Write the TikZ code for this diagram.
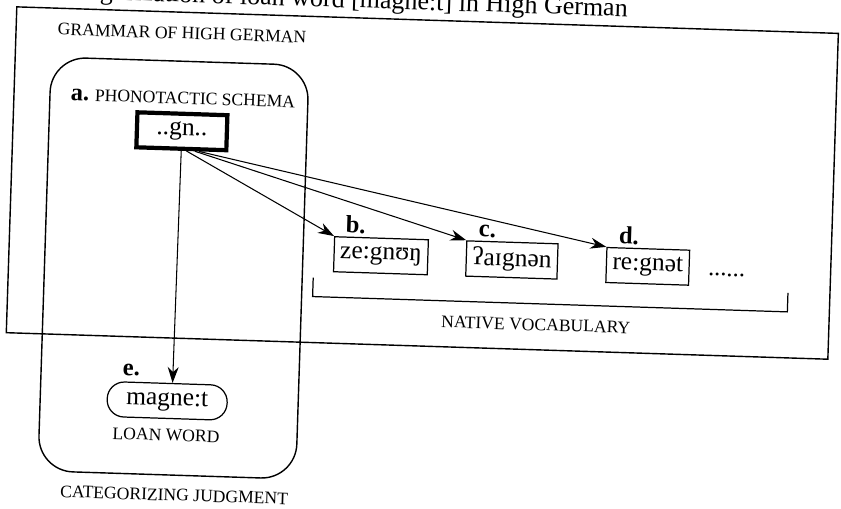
\documentclass[tikz,border=0pt]{standalone}
\usepackage{fontspec}
\setmainfont{Liberation Serif}
\usetikzlibrary{arrows.meta,positioning}

\begin{document}
\begin{tikzpicture}[x=0.2mm,y=-0.2mm,
  word/.style={draw,line width=0.7pt,inner xsep=1.2mm,minimum height=7mm,font=\fontsize{14.5}{16}\selectfont},
  tag/.style={inner sep=0pt,font=\fontsize{14}{16}\selectfont\bfseries},
  caps/.style={inner sep=0pt,font=\fontsize{10}{12}\selectfont},
  link/.style={-{Stealth[length=3.2mm,width=2.2mm]},line width=0.6pt}]
  \useasboundingbox (0,0) rectangle (841,509);
  \begin{scope}[rotate around={-1.85:(420,255)},transform shape]
  % caption, cut by the page
  \node[anchor=base east,inner sep=0pt,font=\fontsize{14.8}{16}\selectfont] (cap) at (620,10)
    {Categorization of loan word [magne:t] in High German};

  % grammar
  \draw[line width=0.8pt] (9,20) rectangle (831,346);
  \node[caps] (gram) at (175,41) {GRAMMAR OF HIGH GERMAN};

  % judgment
  \draw[line width=0.8pt,rounded corners=7mm] (45,69) rectangle (303,483);
  \node[caps] (judg) at (182,503) {CATEGORIZING JUDGMENT};

  % schema
  \node[word,line width=2.4pt,minimum width=18mm] (gn) at (178,139) {..gn..};
  \node[caps,above=1.4mm of gn] (schema) {{\fontsize{14}{16}\selectfont\bfseries a.} PHONOTACTIC SCHEMA};

  % native words
  \node[word] (zeg) at (381,257) {ze:gnʊŋ};
  \node[word] (aig) at (512,257) {ʔaɪgnən};
  \node[word] (reg) at (648,259) {re:gnət};
  \node[inner sep=0pt,font=\fontsize{14}{16}\selectfont] (dots) at (727,265) {......};
  \node[tag,anchor=south west] (lb) at ([xshift=2.2mm,yshift=0.6mm]zeg.north west) {b.};
  \node[tag,anchor=south west] (lc) at ([xshift=2.4mm,yshift=0.6mm]aig.north west) {c.};
  \node[tag,anchor=south west] (ld) at ([xshift=2.4mm,yshift=0.6mm]reg.north west) {d.};
  \draw[line width=0.7pt] (314,281) |- (789,300) -- (789,281);
  \node[caps] (nat) at (538,321) {NATIVE VOCABULARY};

  % loan word
  \node[word,rounded corners=3.4mm,minimum width=24mm] (mag) at (172,409) {magne:t};
  \node[tag,anchor=south west] (le) at ([xshift=3mm,yshift=1mm]mag.north west) {e.};
  \node[caps,below=2mm of mag] (loan) {LOAN WORD};

  % arrows
  \draw[link] (gn.south) -- (mag.75);
  \draw[link] (gn.-75) -- (zeg.north west);
  \draw[link] (gn.-55) -- (aig.north west);
  \draw[link] (gn.-48) -- (reg.north west);
  \end{scope}
\end{tikzpicture}
\end{document}
